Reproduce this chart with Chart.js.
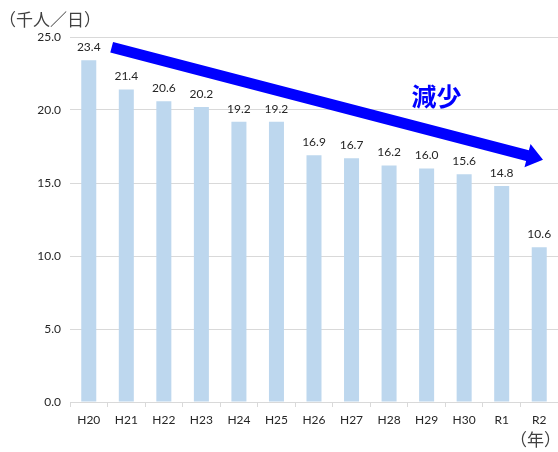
<!DOCTYPE html>
<html>
<head>
<meta charset="utf-8">
<script src="https://cdn.jsdelivr.net/npm/chart.js@4/dist/chart.umd.min.js"></script>
<style>
  html, body { margin: 0; padding: 0; background: #fff; }
  #wrap { position: relative; width: 558px; height: 452px; }
  canvas { display: block; }
</style>
</head>
<body>
<div id="wrap"><canvas id="c" width="558" height="452"></canvas></div>
<script>
// Daily users (thousand persons per day) by fiscal year
const years = ['H20', 'H21', 'H22', 'H23', 'H24', 'H25', 'H26', 'H27', 'H28', 'H29', 'H30', 'R1', 'R2'];
const riders = [23.4, 21.4, 20.6, 20.2, 19.2, 19.2, 16.9, 16.7, 16.2, 16.0, 15.6, 14.8, 10.6];
const yTicks = [0, 5, 10, 15, 20, 25];

// Trend arrow, in category index / value units
const trendFrom = { i: 0.61, v: 24.3 };
const trendTo = { i: 12.1, v: 16.6 };
const trendText = '減少';
const trendTextAt = { i: 9.26, v: 20.9 };

const unitY = '（千人／日）';
const unitX = '（年）';

const LATIN = 'Lato, "Noto Sans CJK JP", sans-serif';
const CJK = '"Noto Sans CJK JP", sans-serif';

const valueLabels = {
  id: 'valueLabels',
  afterDatasetsDraw(chart) {
    const ctx = chart.ctx;
    const meta = chart.getDatasetMeta(0);
    ctx.save();
    ctx.font = '12px ' + LATIN;
    ctx.fillStyle = '#262626';
    ctx.textAlign = 'center';
    ctx.textBaseline = 'middle';
    meta.data.forEach((bar, k) => {
      ctx.fillText(riders[k].toFixed(1), bar.x, bar.y - 13);
    });
    ctx.restore();
  }
};

const trendArrow = {
  id: 'trendArrow',
  afterDraw(chart) {
    const ctx = chart.ctx;
    const xs = chart.scales.x, ys = chart.scales.y;
    const x0 = xs.getPixelForValue(trendFrom.i), y0 = ys.getPixelForValue(trendFrom.v);
    const x1 = xs.getPixelForValue(trendTo.i), y1 = ys.getPixelForValue(trendTo.v);
    const dx = x1 - x0, dy = y1 - y0;
    const len = Math.hypot(dx, dy);
    const ux = dx / len, uy = dy / len;
    const nx = -uy, ny = ux;
    const shaft = 5.5, head = 12, headLen = 16;
    const bx = x1 - ux * headLen, by = y1 - uy * headLen;
    ctx.save();
    ctx.fillStyle = '#0000FF';
    ctx.beginPath();
    ctx.moveTo(x0 + nx * shaft, y0 + ny * shaft);
    ctx.lineTo(bx + nx * shaft, by + ny * shaft);
    ctx.lineTo(bx + nx * head, by + ny * head);
    ctx.lineTo(x1, y1);
    ctx.lineTo(bx - nx * head, by - ny * head);
    ctx.lineTo(bx - nx * shaft, by - ny * shaft);
    ctx.lineTo(x0 - nx * shaft, y0 - ny * shaft);
    ctx.closePath();
    ctx.fill();

    ctx.font = 'bold 25px ' + CJK;
    ctx.textAlign = 'center';
    ctx.textBaseline = 'middle';
    ctx.fillText(trendText, xs.getPixelForValue(trendTextAt.i), ys.getPixelForValue(trendTextAt.v));

    ctx.fillStyle = '#404040';
    ctx.font = '17px ' + CJK;
    ctx.textAlign = 'left';
    ctx.fillText(unitY, -1, 20);
    ctx.textAlign = 'right';
    ctx.fillText(unitX, 561, 440);
    ctx.restore();
  }
};

new Chart(document.getElementById('c'), {
  type: 'bar',
  data: {
    labels: years,
    datasets: [{
      data: riders,
      backgroundColor: '#BDD7EE',
      borderWidth: 0,
      categoryPercentage: 1,
      barPercentage: 0.4
    }]
  },
  options: {
    responsive: false,
    animation: false,
    events: [],
    layout: { padding: { top: 37, right: 0, bottom: 0, left: 0 } },
    plugins: { legend: { display: false }, tooltip: { enabled: false } },
    scales: {
      x: {
        grid: { drawOnChartArea: false, drawTicks: true, tickLength: 5, color: '#D9D9D9' },
        border: { color: '#D9D9D9' },
        ticks: { color: '#262626', font: { family: LATIN, size: 12 }, padding: 6, maxRotation: 0 },
        afterFit(s) { s.height = 50; }
      },
      y: {
        min: 0,
        max: 25,
        afterBuildTicks(s) { s.ticks = yTicks.map(v => ({ value: v })); },
        grid: { color: '#D9D9D9', drawTicks: false },
        border: { display: false },
        ticks: {
          color: '#262626',
          font: { family: LATIN, size: 12 },
          padding: 9,
          callback: v => Number(v).toFixed(1)
        },
        afterFit(s) { s.width = 70; }
      }
    }
  },
  plugins: [valueLabels, trendArrow]
});
</script>
</body>
</html>
